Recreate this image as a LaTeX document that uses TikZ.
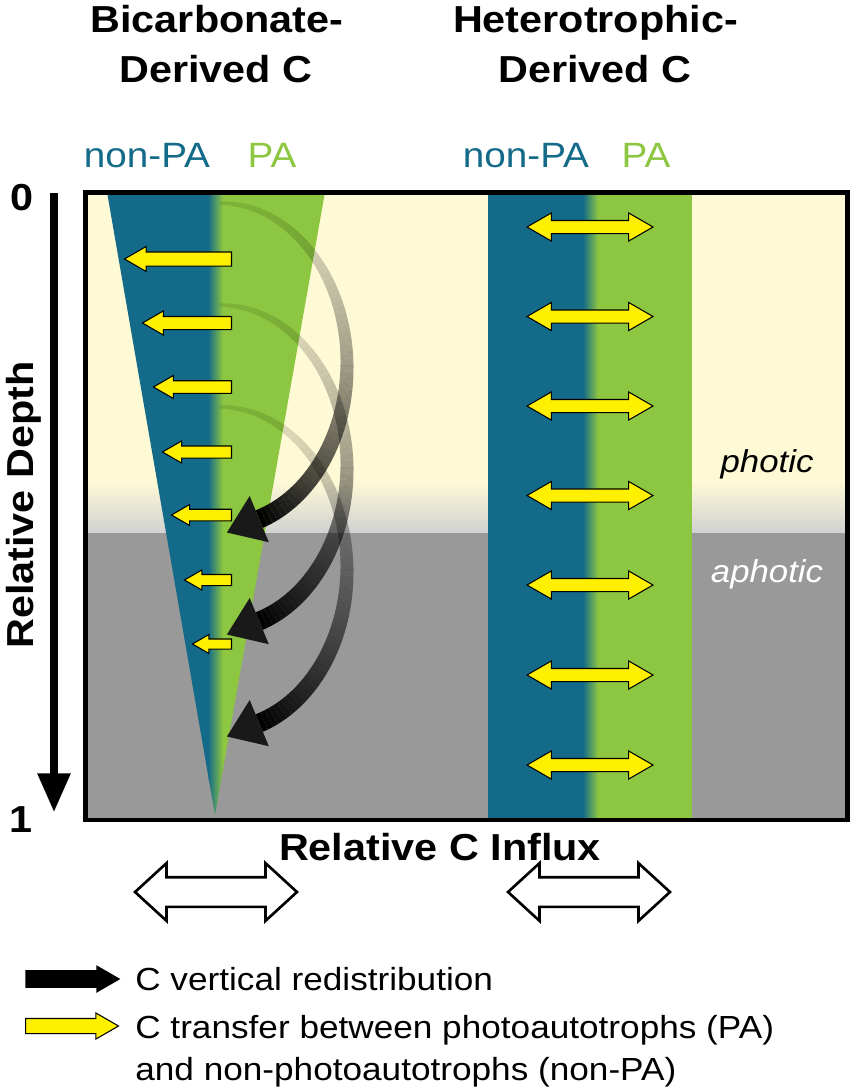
\documentclass[tikz,border=0pt]{standalone}
\usepackage{fontspec}
\setmainfont{Liberation Sans}[FakeStretch=1.1]
\usetikzlibrary{arrows.meta,shapes.arrows,calc}
\definecolor{SeaClr}{RGB}{255,250,214}
\definecolor{DeepClr}{RGB}{153,153,153}
\definecolor{NonPAClr}{RGB}{19,106,137}
\definecolor{PAClr}{RGB}{141,198,64}
\definecolor{FluxClr}{RGB}{255,240,0}

\begin{document}
\begin{tikzpicture}[x=0.02cm,y=-0.02cm,
  ttl/.style={inner sep=0pt,font=\bfseries\fontsize{21.4}{26}\selectfont},
  grp/.style={inner sep=0pt,font=\fontsize{20}{24}\selectfont},
  zone/.style={inner sep=0pt,font=\itshape\fontsize{18}{22}\selectfont},
  leg/.style={inner sep=0pt,anchor=base west,font=\fontsize{18.2}{22}\selectfont},
  larrow/.style={single arrow,draw=black,line width=0.6pt,fill=FluxClr,inner sep=0pt,
    single arrow tip angle=60,shape border rotate=180,anchor=tail},
  darrow/.style={double arrow,draw=black,line width=0.6pt,fill=FluxClr,inner sep=0pt,
    double arrow tip angle=60,minimum height=2.52cm,inner ysep=0.12cm,double arrow head extend=0.15cm},
  warrow/.style={double arrow,draw=black,line width=1.5pt,fill=white,inner sep=0pt,
    double arrow tip angle=85,minimum height=3.24cm,inner ysep=0.27cm,double arrow head extend=0.28cm}]
\useasboundingbox (0,0) rectangle (850,1089);

\fill[SeaClr] (85.5,192.5) rectangle (847.5,480);
\shade[top color=SeaClr,bottom color=black!18] (85.5,480) rectangle (847.5,533);
\fill[DeepClr] (85.5,533) rectangle (847.5,820);

\coordinate (wl) at (107,192);
\coordinate (wr) at (325,192);
\coordinate (wa) at (215,815);
\begin{scope}
\clip (wl) -- (wr) -- (wa) -- cycle;
\fill[NonPAClr] (100,190) rectangle (208,820);
\shade[left color=NonPAClr,right color=PAClr] (208,190) rectangle (223,820);
\fill[PAClr] (223,190) rectangle (330,820);
\end{scope}

\fill[NonPAClr] (488,192.5) rectangle (583,820);
\shade[left color=NonPAClr,right color=PAClr] (583,192.5) rectangle (598,820);
\fill[PAClr] (598,192.5) rectangle (692,820);

\foreach \xl/\yy/\hd/\sh [count=\n] in {125/259/24/13,143/323/23/12,154/387/22/11.5,
    163/452/21/11,172/515/20/10.5,185/580/19/10,193/644/18/9}
  \node[larrow,minimum height={(232-\xl)*0.02cm},inner ysep={\sh*0.01cm},
    single arrow head extend={(\hd-\sh)*0.01cm}] (tr\n) at (232,\yy) {};

\foreach \yy [count=\n] in {227,316.5,406,495.5,585,675,765}
  \node[darrow] (tx\n) at (590,\yy) {};

\foreach \k in {0,1,2}{
  \pgfmathsetmacro\cy{365+102*\k}
  \foreach \i in {1,...,72}{
    \pgfmathsetmacro\pa{162*(\i-1)/72}
    \pgfmathsetmacro\pb{162*\i/72}
    \pgfmathsetmacro\fa{max((\i-1)/72,0.001)}
    \pgfmathsetmacro\fb{\i/72}
    \pgfmathsetmacro\op{0.1+0.9*((\fa+\fb)/2)^2}
    \pgfmathsetmacro\ha{(3+16*\fa^0.8)/2}
    \pgfmathsetmacro\hb{(3+16*\fb^0.8)/2}
    \pgfmathsetmacro\na{sqrt((1.27*cos(\pa))^2+(1.62*sin(\pa))^2)}
    \pgfmathsetmacro\nb{sqrt((1.27*cos(\pb))^2+(1.62*sin(\pb))^2)}
    \pgfmathsetmacro\xa{220+127*sin(\pa)}
    \pgfmathsetmacro\ya{\cy-162*cos(\pa)}
    \pgfmathsetmacro\xb{220+127*sin(\pb)}
    \pgfmathsetmacro\yb{\cy-162*cos(\pb)}
    \pgfmathsetmacro\ua{1.62*sin(\pa)/\na}
    \pgfmathsetmacro\va{-1.27*cos(\pa)/\na}
    \pgfmathsetmacro\ub{1.62*sin(\pb)/\nb}
    \pgfmathsetmacro\vb{-1.27*cos(\pb)/\nb}
    \fill[black,fill opacity=\op]
      ({\xa+\ha*\ua},{\ya+\ha*\va}) -- ({\xb+\hb*\ub},{\yb+\hb*\vb})
      -- ({\xb-\hb*\ub},{\yb-\hb*\vb}) -- ({\xa-\ha*\ua},{\ya-\ha*\va}) -- cycle;
  }
  \coordinate (hb\k) at (268.8,{\cy+177.2});
  \coordinate (ht\k) at (226.9,{\cy+167.5});
  \coordinate (ha\k) at (249.7,{\cy+131});
  \fill[black!90] (ha\k) -- (ht\k) -- (hb\k) -- cycle;
}

\draw[line width=2.8pt] (85.5,192.5) rectangle (847.5,820);

\coordinate (dtop) at (54,193);
\coordinate (dend) at (54,812);
\draw[line width=4pt,-{Triangle[length=22pt,width=18pt]}] (dtop) -- (dend);
\node[ttl,anchor=base] (zero) at (22,210) {0};
\node[ttl,anchor=base] (one) at (21,832) {1};
\node[ttl,rotate=90,anchor=base] (depth) at (33,505) {Relative Depth};

\node[ttl,anchor=base] (bic1) at (217,32) {Bicarbonate-};
\node[ttl,anchor=base] (bic2) at (216,82) {Derived C};
\node[ttl,anchor=base] (het1) at (595.5,32) {Heterotrophic-};
\node[ttl,anchor=base] (het2) at (595,82) {Derived C};

\node[grp,anchor=base,text=NonPAClr] (npaL) at (147,167) {non-PA};
\node[grp,anchor=base,text=PAClr] (paL) at (272,167) {PA};
\node[grp,anchor=base,text=NonPAClr] (npaR) at (526,167) {non-PA};
\node[grp,anchor=base,text=PAClr] (paR) at (646,167) {PA};

\node[zone,anchor=base] (photic) at (767,472) {photic};
\node[zone,anchor=base,text=white] (aphotic) at (767,582) {aphotic};

\node[ttl,anchor=base] (influx) at (440,860) {Relative C Influx};
\node[warrow] (infL) at (216,892) {};
\node[warrow] (infR) at (589,892) {};

\node[single arrow,fill=black,inner sep=0pt,single arrow tip angle=60,anchor=tail,
  minimum height=1.9cm,inner ysep=0.17cm,single arrow head extend=0.1cm] (keyB) at (25,979) {};
\node[single arrow,draw=black,line width=0.6pt,fill=FluxClr,inner sep=0pt,single arrow tip angle=60,
  anchor=tail,minimum height=1.86cm,inner ysep=0.14cm,single arrow head extend=0.11cm] (keyY) at (25,1026) {};
\node[leg] (keyB-txt) at (135,990) {C vertical redistribution};
\node[leg] (keyY-txt) at (135,1038) {C transfer between photoautotrophs (PA)};
\node[leg] (keyY-txt2) at (135,1080) {and non-photoautotrophs (non-PA)};
\end{tikzpicture}
\end{document}
